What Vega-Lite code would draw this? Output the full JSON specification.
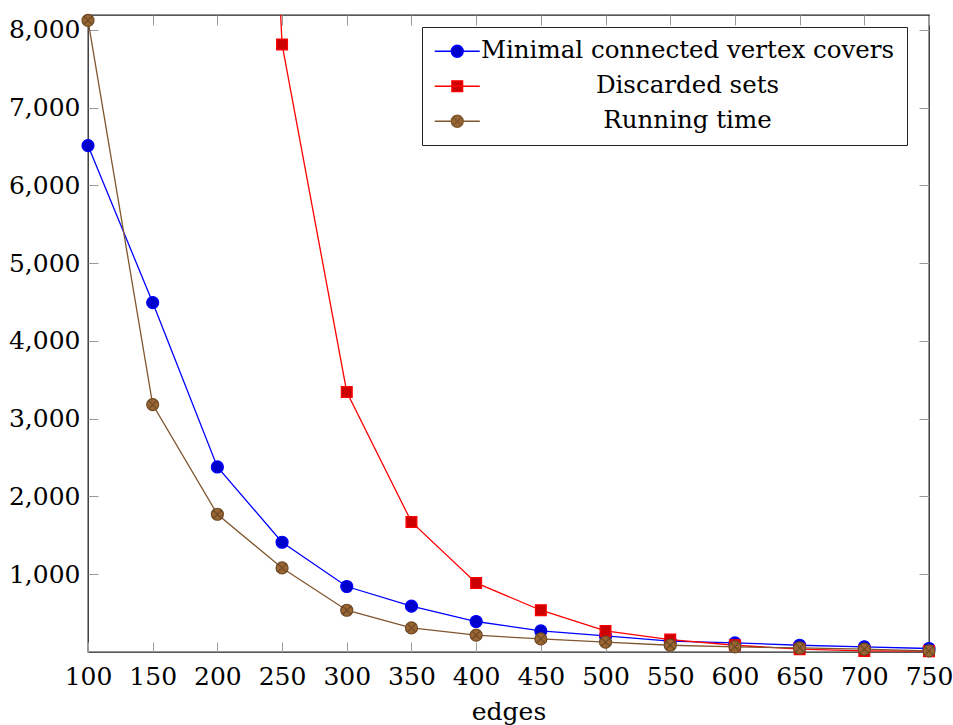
{
  "$schema": "https://vega.github.io/schema/vega-lite/v6.json",
  "width": 841,
  "height": 637,
  "autosize": {"type": "none"},
  "padding": {"left": 88, "top": 15, "right": 24, "bottom": 73},
  "background": "white",
  "config": {
    "view": {"stroke": "#222222", "strokeWidth": 1.3},
    "font": "DejaVu Serif"
  },
  "data": {
    "values": [
      {"edges": 100, "series": "Minimal connected vertex covers", "value": 6511},
      {"edges": 150, "series": "Minimal connected vertex covers", "value": 4492},
      {"edges": 200, "series": "Minimal connected vertex covers", "value": 2379},
      {"edges": 250, "series": "Minimal connected vertex covers", "value": 1411},
      {"edges": 300, "series": "Minimal connected vertex covers", "value": 842},
      {"edges": 350, "series": "Minimal connected vertex covers", "value": 589},
      {"edges": 400, "series": "Minimal connected vertex covers", "value": 392},
      {"edges": 450, "series": "Minimal connected vertex covers", "value": 271},
      {"edges": 500, "series": "Minimal connected vertex covers", "value": 207},
      {"edges": 550, "series": "Minimal connected vertex covers", "value": 139},
      {"edges": 600, "series": "Minimal connected vertex covers", "value": 117},
      {"edges": 650, "series": "Minimal connected vertex covers", "value": 87},
      {"edges": 700, "series": "Minimal connected vertex covers", "value": 66},
      {"edges": 750, "series": "Minimal connected vertex covers", "value": 45},
      {"edges": 100, "series": "Discarded sets", "value": 250000},
      {"edges": 150, "series": "Discarded sets", "value": 80000},
      {"edges": 200, "series": "Discarded sets", "value": 25000},
      {"edges": 250, "series": "Discarded sets", "value": 7812},
      {"edges": 300, "series": "Discarded sets", "value": 3343},
      {"edges": 350, "series": "Discarded sets", "value": 1672},
      {"edges": 400, "series": "Discarded sets", "value": 888},
      {"edges": 450, "series": "Discarded sets", "value": 537},
      {"edges": 500, "series": "Discarded sets", "value": 271},
      {"edges": 550, "series": "Discarded sets", "value": 160},
      {"edges": 600, "series": "Discarded sets", "value": 87},
      {"edges": 650, "series": "Discarded sets", "value": 36},
      {"edges": 700, "series": "Discarded sets", "value": 14},
      {"edges": 750, "series": "Discarded sets", "value": 10},
      {"edges": 100, "series": "Running time", "value": 8121},
      {"edges": 150, "series": "Running time", "value": 3181},
      {"edges": 200, "series": "Running time", "value": 1771},
      {"edges": 250, "series": "Running time", "value": 1081},
      {"edges": 300, "series": "Running time", "value": 537},
      {"edges": 350, "series": "Running time", "value": 310},
      {"edges": 400, "series": "Running time", "value": 216},
      {"edges": 450, "series": "Running time", "value": 168},
      {"edges": 500, "series": "Running time", "value": 126},
      {"edges": 550, "series": "Running time", "value": 87},
      {"edges": 600, "series": "Running time", "value": 66},
      {"edges": 650, "series": "Running time", "value": 53},
      {"edges": 700, "series": "Running time", "value": 36},
      {"edges": 750, "series": "Running time", "value": 14}
    ]
  },
  "layer": [
    {
      "mark": {"type": "line", "clip": true, "strokeWidth": 1.3},
      "encoding": {
        "x": {
          "field": "edges", "type": "quantitative",
          "scale": {"domain": [100, 750], "nice": false, "zero": false},
          "axis": {
            "orient": "bottom",
            "values": [100, 150, 200, 250, 300, 350, 400, 450, 500, 550, 600, 650, 700, 750],
            "title": "edges", "titleFont": "DejaVu Serif", "titleFontSize": 25,
            "titleFontWeight": "normal", "titleColor": "black", "titlePadding": 10,
            "labelFont": "DejaVu Serif", "labelFontSize": 25, "labelColor": "black",
            "labelPadding": 22, "labelFlush": false, "labelOverlap": false,
            "tickSize": -10, "tickColor": "#9a9a9a", "tickWidth": 1,
            "domain": false, "grid": false
          }
        },
        "y": {
          "field": "value", "type": "quantitative",
          "scale": {"domain": [0, 8190], "nice": false, "zero": true},
          "axis": {
            "orient": "left",
            "values": [1000, 2000, 3000, 4000, 5000, 6000, 7000, 8000],
            "format": ",d", "title": null,
            "labelFont": "DejaVu Serif", "labelFontSize": 25, "labelColor": "black",
            "labelPadding": 18, "labelOverlap": false, "labelFlush": false,
            "tickSize": -10, "tickColor": "#9a9a9a", "tickWidth": 1,
            "domain": false, "grid": false
          }
        },
        "stroke": {
          "field": "series", "type": "nominal",
          "scale": {
            "domain": ["Minimal connected vertex covers", "Discarded sets", "Running time"],
            "range": ["#0000ff", "#ff0000", "#80562e"]
          },
          "legend": {
            "title": null, "orient": "none", "legendX": 334, "legendY": 12,
            "strokeColor": "#222222", "fillColor": "white", "padding": 12,
            "labelFont": "DejaVu Serif", "labelFontSize": 24.5, "labelColor": "black",
            "labelAlign": "center", "labelOffset": 218, "labelLimit": 600,
            "symbolOffset": 11, "rowPadding": 10,
            "encode": {
              "symbols": {
                "update": {
                  "shape": {"signal": "datum.value === 'Discarded sets' ? 'M-3.75,0H3.75M-0.9,-0.9H0.9V0.9H-0.9Z' : (datum.value === 'Running time' ? 'M-3.75,0H-1A1,1,0,1,1,1,0A1,1,0,1,1,-1,0M1,0H3.75M-0.707,-0.707L0.707,0.707M-0.707,0.707L0.707,-0.707' : 'M-3.75,0H-1A1,1,0,1,1,1,0A1,1,0,1,1,-1,0M1,0H3.75')"},
                  "fill": {"signal": "datum.value === 'Discarded sets' ? '#cc0000' : (datum.value === 'Running time' ? '#996633' : '#0000cc')"},
                  "stroke": {"signal": "datum.value === 'Discarded sets' ? '#ff4040' : (datum.value === 'Running time' ? '#80562e' : '#4040ff')"},
                  "strokeWidth": {"value": 1.3},
                  "size": {"value": 144},
                  "opacity": {"value": 1}
                }
              }
            }
          }
        }
      }
    },
    {
      "transform": [{"filter": "datum.series === 'Minimal connected vertex covers'"}],
      "mark": {"type": "point", "filled": true, "opacity": 1, "strokeWidth": 1.2, "size": 144,
               "shape": "M1,0A1,1,0,1,1,-1,0A1,1,0,1,1,1,0Z", "fill": "#0000cc", "stroke": "#0000ff"},
      "encoding": {
        "x": {
          "field": "edges", "type": "quantitative",
          "axis": {
            "orient": "top",
            "values": [100, 150, 200, 250, 300, 350, 400, 450, 500, 550, 600, 650, 700, 750],
            "labels": false, "title": null,
            "tickSize": -10, "tickColor": "#9a9a9a", "tickWidth": 1,
            "domain": false, "grid": false
          }
        },
        "y": {
          "field": "value", "type": "quantitative",
          "axis": {
            "orient": "right",
            "values": [1000, 2000, 3000, 4000, 5000, 6000, 7000, 8000],
            "labels": false, "title": null,
            "tickSize": -10, "tickColor": "#9a9a9a", "tickWidth": 1,
            "domain": false, "grid": false
          }
        }
      }
    },
    {
      "transform": [{"filter": "datum.series === 'Discarded sets' && datum.value <= 8190"}],
      "mark": {"type": "point", "filled": true, "opacity": 1, "strokeWidth": 1.2, "size": 144,
               "shape": "M-0.9,-0.9H0.9V0.9H-0.9Z", "fill": "#cc0000", "stroke": "#ff0000"},
      "encoding": {
        "x": {"field": "edges", "type": "quantitative", "axis": null},
        "y": {"field": "value", "type": "quantitative", "axis": null}
      }
    },
    {
      "transform": [{"filter": "datum.series === 'Running time'"}],
      "mark": {"type": "point", "filled": true, "opacity": 1, "strokeWidth": 1.2, "size": 144,
               "shape": "M1,0A1,1,0,1,1,-1,0A1,1,0,1,1,1,0ZM-0.707,-0.707L0.707,0.707M-0.707,0.707L0.707,-0.707",
               "fill": "#996633", "stroke": "#6e4a26"},
      "encoding": {
        "x": {"field": "edges", "type": "quantitative", "axis": null},
        "y": {"field": "value", "type": "quantitative", "axis": null}
      }
    }
  ],
  "resolve": {"axis": {"x": "independent", "y": "independent"}}
}
